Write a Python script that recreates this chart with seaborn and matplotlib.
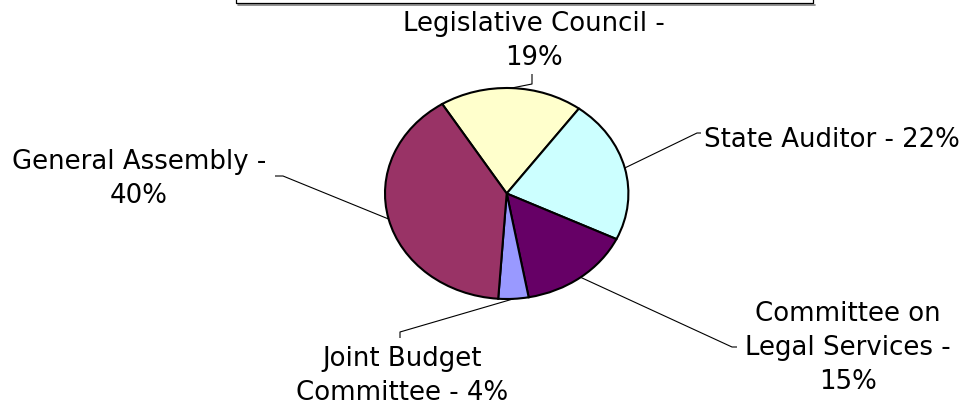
import numpy as np
import matplotlib
matplotlib.use("Agg")
import matplotlib.pyplot as plt
import seaborn as sns

# ---- data ----
categories = ["Legislative Council", "State Auditor", "Committee on Legal Services",
              "Joint Budget Committee", "General Assembly"]
shares = [19, 22, 15, 4, 40]
label_texts = ["Legislative Council -\n19%", "State Auditor - 22%",
               "Committee on\nLegal Services -\n15%", "Joint Budget\nCommittee - 4%",
               "General Assembly -\n40%"]
colors = ["#FFFFCC", "#CCFFFF", "#660066", "#9999FF", "#993366"]

sns.set_style("white")
plt.rcParams['font.family'] = ['DejaVu Sans']

W, H = 966, 406
fig = plt.figure(figsize=(W / 100, H / 100), dpi=100)
ax = fig.add_axes([0, 0, 1, 1])

# pie geometry in pixels (ellipse)
cx, cy, rx, ry = 506.7, 194.5, 121.7, 105.5


def P(x, y):
    return ((x - cx) / rx, (cy - y) / ry)


wedges, _ = ax.pie(shares, colors=colors, startangle=122, counterclock=False,
                   radius=1, center=(0, 0),
                   wedgeprops=dict(edgecolor='black', linewidth=1.5))
ax.set_aspect('auto')
ax.set_xlim(-cx / rx, (W - cx) / rx)
ax.set_ylim(-(H - cy) / ry, cy / ry)
ax.axis('off')

# label layout (pixels): text anchor (center x, last-line baseline y), leader elbow points
text_pos = [(534, 65), (831.5, 147), (848, 389), (402, 400.5), (139, 203)]
elbows = [[(532, 85), (532, 75)],
          [(697, 134), (701, 134)],
          [(732, 348), (737, 348)],
          [(400, 333), (400, 339)],
          [(283, 177), (275, 177)]]

for w, txt, tp, el in zip(wedges, label_texts, text_pos, elbows):
    th = np.deg2rad((w.theta1 + w.theta2) / 2)
    pts = [(np.cos(th), np.sin(th))] + [P(*e) for e in el]
    xs, ys = zip(*pts)
    ax.plot(xs, ys, color='black', lw=0.8, solid_capstyle='butt', zorder=1)
    tx, ty = P(*tp)
    ax.text(tx, ty, txt, ha='center', va='baseline', multialignment='center',
            fontsize=18.7, color='black', linespacing=1.4)

# cut-off box at top
bx0, bx1, by = 236, 813, 4
ax.plot(*zip(P(bx0 + 2, by + 1.5), P(bx1 + 2, by + 1.5)), color='#808080', lw=1.2, clip_on=False)
ax.plot(*zip(P(bx0, -2), P(bx0, by), P(bx1, by), P(bx1, -2)), color='black', lw=0.9,
        clip_on=False)

fig.savefig("out.png", dpi=100)
